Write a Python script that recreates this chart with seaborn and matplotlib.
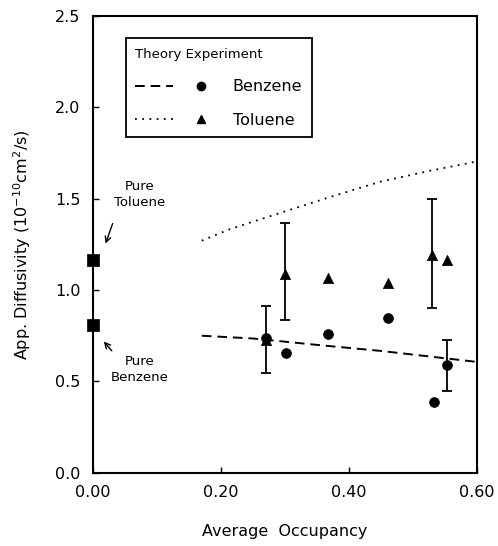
import numpy as np
import pandas as pd
import matplotlib
matplotlib.use("Agg")
import matplotlib.pyplot as plt
from matplotlib.lines import Line2D
from matplotlib.legend_handler import HandlerTuple
import seaborn as sns

# theory curves
benz_theory_x = [0.17, 0.25, 0.35, 0.45, 0.60]
benz_theory_y = [0.750, 0.735, 0.700, 0.667, 0.607]
tol_theory_x = [0.17, 0.214, 0.30, 0.371, 0.45, 0.528, 0.60]
tol_theory_y = [1.270, 1.333, 1.430, 1.509, 1.593, 1.653, 1.703]

# experiment
benz_x = [0.270, 0.302, 0.368, 0.461, 0.533, 0.554]
benz_y = [0.740, 0.656, 0.758, 0.848, 0.386, 0.588]
tol_x = [0.270, 0.300, 0.367, 0.461, 0.531, 0.553]
tol_y = [0.727, 1.086, 1.068, 1.038, 1.194, 1.163]

# error bars (x, y, low, high)
err_x = [0.270, 0.300, 0.531, 0.554]
err_y = [0.727, 1.086, 1.194, 0.588]
err_lo = [0.544, 0.835, 0.900, 0.450]
err_hi = [0.910, 1.365, 1.496, 0.724]

# pure components at zero occupancy
pure_x = [0.0, 0.0]
pure_y = [1.167, 0.808]

sns.set_style("ticks")
plt.rcParams["font.family"] = ["DejaVu Sans"]
plt.rcParams["text.color"] = "black"
plt.rcParams["axes.labelcolor"] = "black"
plt.rcParams["xtick.color"] = "black"
plt.rcParams["ytick.color"] = "black"
plt.rcParams["axes.edgecolor"] = "black"

fig = plt.figure(figsize=(4.98, 5.46), dpi=100)
ax = fig.add_axes([0.187, 0.134, 0.770, 0.837])

sns.lineplot(x=benz_theory_x, y=benz_theory_y, ax=ax, color="black",
             linestyle=(0, (5, 3)), linewidth=1.4)
sns.lineplot(x=tol_theory_x, y=tol_theory_y, ax=ax, color="black",
             linestyle=(0, (1, 3)), linewidth=1.3)

ax.errorbar(err_x, err_y,
            yerr=[np.array(err_y) - np.array(err_lo), np.array(err_hi) - np.array(err_y)],
            fmt="none", ecolor="black", elinewidth=1.3, capsize=3.5, capthick=1.3)

sns.scatterplot(x=tol_x, y=tol_y, ax=ax, marker="^", s=55, color="black",
                edgecolor="black", linewidth=0.5)
sns.scatterplot(x=benz_x, y=benz_y, ax=ax, marker="o", s=50, color="black",
                edgecolor="black", linewidth=0.5)
sns.scatterplot(x=pure_x, y=pure_y, ax=ax, marker="s", s=85, color="black",
                edgecolor="black", linewidth=0.5)
for coll in ax.collections:
    coll.set_clip_on(False)

ax.set_xlim(0, 0.6)
ax.set_ylim(0, 2.5)
ax.set_xticks([0.0, 0.2, 0.4, 0.6])
ax.set_xticklabels(["0.00", "0.20", "0.40", "0.60"])
ax.set_yticks([0.0, 0.5, 1.0, 1.5, 2.0, 2.5])
ax.set_yticklabels(["0.0", "0.5", "1.0", "1.5", "2.0", "2.5"])
ax.tick_params(direction="in", length=4, width=1, labelsize=11.5, pad=9)
for sp in ax.spines.values():
    sp.set_linewidth(1.5)
    sp.set_visible(True)

ax.set_xlabel("Average  Occupancy", fontsize=11.5, labelpad=17)
ax.set_ylabel("App. Diffusivity (10$^{-10}$cm$^{2}$/s)", fontsize=11.5, labelpad=16)

ax.text(0.073, 1.525, "Pure\nToluene", ha="center", va="center", fontsize=9.5,
        linespacing=1.3)
ax.annotate("", xy=(0.018, 1.24), xytext=(0.032, 1.378),
            arrowprops=dict(arrowstyle="->", color="black", lw=1))
ax.text(0.073, 0.567, "Pure\nBenzene", ha="center", va="center", fontsize=9.5,
        linespacing=1.3)
ax.annotate("", xy=(0.014, 0.73), xytext=(0.032, 0.656),
            arrowprops=dict(arrowstyle="->", color="black", lw=1))

h_benz = (Line2D([], [], color="black", linestyle=(0, (5, 3)), linewidth=1.4),
          Line2D([], [], color="black", marker="o", linestyle="none", markersize=6))
h_tol = (Line2D([], [], color="black", linestyle=(0, (1, 3)), linewidth=1.3),
         Line2D([], [], color="black", marker="^", linestyle="none", markersize=6))
leg = ax.legend([h_benz, h_tol], ["Benzene", "Toluene"],
                handler_map={tuple: HandlerTuple(ndivide=None, pad=0.6)},
                title="Theory Experiment", loc="upper left",
                bbox_to_anchor=(0.085, 0.951), fontsize=11.5, title_fontsize=9.5,
                handlelength=5.3, handletextpad=0.8, labelspacing=1.15,
                borderpad=0.6, borderaxespad=0, fancybox=False, framealpha=1,
                edgecolor="black")
leg._legend_box.align = "left"
leg.get_frame().set_linewidth(1.3)

fig.savefig("out.png", dpi=100)
